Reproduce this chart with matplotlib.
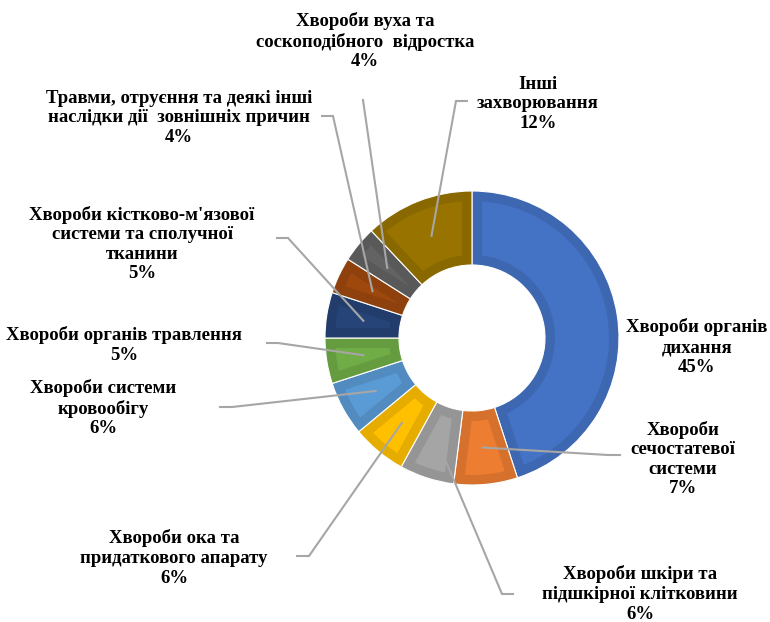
import numpy as np
import matplotlib.pyplot as plt
from matplotlib.patches import Wedge, Polygon

# data
names = ["Хвороби органів\nдихання",
         "Хвороби\nсечостатевої\nсистеми",
         "Хвороби шкіри та\nпідшкірної клітковини",
         "Хвороби ока та\nпридаткового апарату",
         "Хвороби системи\nкровообігу",
         "Хвороби органів травлення",
         "Хвороби кістково-м'язової\nсистеми та сполучної\nтканини",
         "Травми, отруєння та деякі інші\nнаслідки дії  зовнішніх причин",
         "Хвороби вуха та\nсоскоподібного  відростка",
         "Інші\nзахворювання"]
values = [45, 7, 6, 6, 6, 5, 5, 4, 4, 12]
colors = ["#4472C4", "#ED7D31", "#A5A5A5", "#FFC000", "#5B9BD5",
          "#70AD47", "#264478", "#9E480E", "#636363", "#997300"]

# layout (pixel coords of the figure)
cx, cy = 472, 338
R, r = 147, 73
d = 10
label_pos = [(697, 347), (683, 459), (640, 594), (174, 558), (103, 408),
             (124, 345), (142, 244), (179, 118), (365, 41), (538, 104)]
# elbow of leader line, end of short tick (None = no leader)
leaders = [None, ((608, 455), (620, 455)), ((502, 594), (513, 594)),
           ((309, 556), (297, 556)), ((232, 407), (220, 407)),
           ((278, 343), (267, 343)), ((288, 238), (277, 238)),
           ((333, 116), (322, 116)), ((363, 100), (363, 100)),
           ((456, 101), (467, 101))]

fig = plt.figure(figsize=(7.7, 6.22), dpi=100)
ax = fig.add_axes([0, 0, 1, 1])
ax.set_xlim(0, 770)
ax.set_ylim(622, 0)
ax.axis('off')


def darker(c, f=0.9):
    c = np.array([int(c[i:i + 2], 16) for i in (1, 3, 5)]) / 255.0
    return tuple(c * f)


def inset_poly(t1, t2):
    # t1 < t2 in degrees (math orientation, y up)
    pts = []
    ro, ri = R - d, r + d
    do = np.degrees(np.arcsin(d / ro))
    di = np.degrees(np.arcsin(d / ri))
    a = np.linspace(t1 + do, t2 - do, 60)
    pts += [(cx + ro * np.cos(np.radians(t)), cy - ro * np.sin(np.radians(t))) for t in a]
    if t2 - di > t1 + di:
        b = np.linspace(t2 - di, t1 + di, 40)
    else:
        m = (t1 + t2) / 2
        rr = d / np.sin(np.radians((t2 - t1) / 2))
        b = []
        pts.append((cx + rr * np.cos(np.radians(m)), cy - rr * np.sin(np.radians(m))))
    pts += [(cx + ri * np.cos(np.radians(t)), cy - ri * np.sin(np.radians(t))) for t in b]
    return pts


total = sum(values)
start = 90.0
for i, v in enumerate(values):
    span = 360.0 * v / total
    t2 = start
    t1 = start - span
    # y axis is flipped, so mirror angles for Wedge
    w = Wedge((cx, cy), R, -t2, -t1, width=R - r, facecolor=darker(colors[i]),
              edgecolor='white', linewidth=0.8)
    ax.add_patch(w)
    ax.add_patch(Polygon(inset_poly(t1, t2), closed=True, facecolor=colors[i],
                         edgecolor='none'))
    mid = np.radians((t1 + t2) / 2)
    ancx = cx + (R + r) / 2 * np.cos(mid)
    ancy = cy - (R + r) / 2 * np.sin(mid)
    if leaders[i] is not None:
        (ex, ey), (tx, ty) = leaders[i]
        ax.plot([ancx, ex, tx], [ancy, ey, ty], color='#A6A6A6', lw=1.5,
                solid_joinstyle='miter')
    lx, ly = label_pos[i]
    ax.text(lx, ly, names[i] + "\n" + f"{v}%", ha='center', va='center',
            multialignment='center', fontfamily='Liberation Serif',
            fontweight='bold', fontsize=13.5, linespacing=1.2, color='black')
    start = t1

fig.savefig('out.png', dpi=100)
